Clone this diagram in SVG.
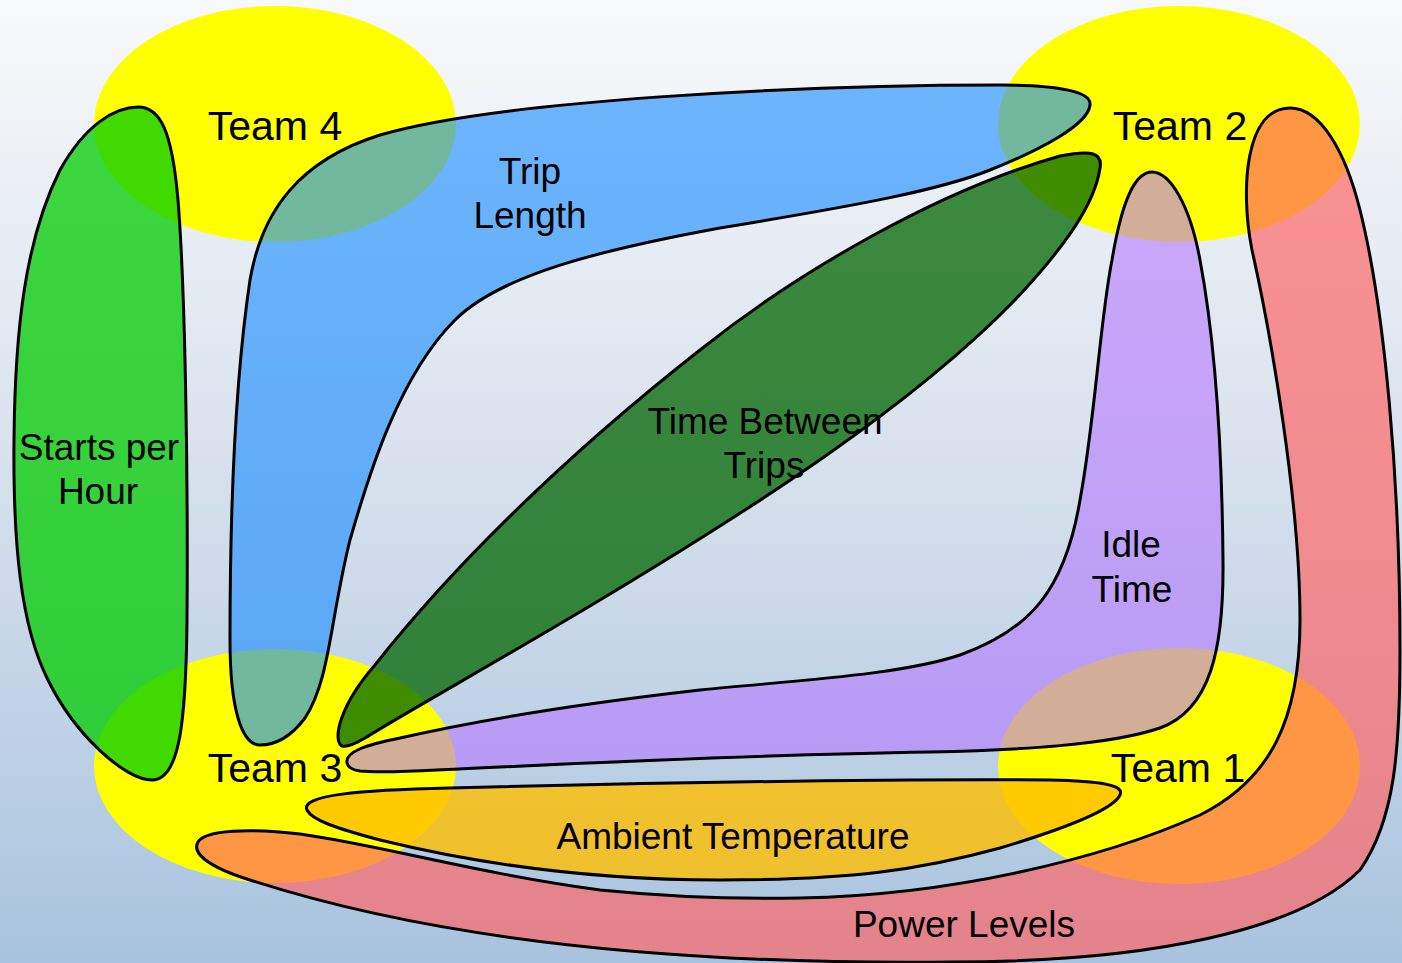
<svg xmlns="http://www.w3.org/2000/svg" width="1402" height="963" viewBox="0 0 1402 963">
<defs>
<linearGradient id="bg" x1="0" y1="0" x2="0" y2="1">
<stop offset="0" stop-color="#f8f9fb"/>
<stop offset="0.5" stop-color="#d6e0ec"/>
<stop offset="1" stop-color="#a8c3df"/>
</linearGradient>
</defs>
<style>
.team{fill:#ffff00;stroke:none}
.set{stroke:#000;stroke-width:3;stroke-linejoin:round}
.lbl{font-family:"Liberation Sans",Arial,sans-serif;fill:#000;text-anchor:middle}
.tl{font-size:41px}
.sl{font-size:37px}
</style>
<rect x="0" y="0" width="1402" height="963" fill="url(#bg)"/>
<g id="team4-bg"><ellipse class="team" cx="275" cy="124" rx="181" ry="118"/></g>
<g id="team2-bg"><ellipse class="team" cx="1179" cy="124" rx="181" ry="118"/></g>
<g id="team3-bg"><ellipse class="team" cx="275" cy="766" rx="181" ry="117"/></g>
<g id="team1-bg"><ellipse class="team" cx="1179" cy="766" rx="181" ry="118"/></g>
<g id="connectors">
<g id="starts-per-hour"><path class="set" fill="#00cc00" fill-opacity="0.75" d="M 138,107 C 160,107 172,130 178,200 C 186,300 188,500 187,620 C 186,720 180,780 152,780 C 125,780 75,735 48,680 C 20,625 13,540 14,440 C 15,330 25,240 60,170 C 85,125 115,107 138,107 Z"/></g>
<g id="trip-length"><path class="set" fill="#1a8cff" fill-opacity="0.62" d="M 260,745 C 242,745 230,710 230,640 C 230,520 235,380 250,280 C 262,210 300,160 380,135 C 500,100 800,85 1000,85 C 1060,85 1092,92 1090,105 C 1088,125 1040,150 990,170 C 940,190 860,205 720,228 C 600,250 500,275 455,320 C 400,375 370,470 350,540 C 330,620 330,680 305,718 C 290,738 275,745 260,745 Z"/></g>
<g id="time-between-trips"><path class="set" fill="#006600" fill-opacity="0.75" d="M 342,746 C 332,740 340,705 375,665 C 450,570 560,460 700,350 C 800,270 940,190 1060,156 C 1090,150 1103,152 1100,168 C 1095,205 1062,250 1015,300 C 910,408 750,510 600,600 C 500,660 410,710 365,738 C 355,744 347,747 342,746 Z"/></g>
<g id="idle-time"><path class="set" fill="#b478ff" fill-opacity="0.6" d="M 347,763 C 345,752 365,745 400,738 C 470,722 560,706 700,690 C 800,680 900,675 960,655 C 1030,630 1065,590 1080,500 C 1095,420 1100,320 1112,260 C 1122,200 1135,172 1152,172 C 1170,172 1190,205 1200,260 C 1215,340 1222,450 1223,560 C 1224,650 1210,710 1160,728 C 1110,745 1020,750 930,752 C 800,754 650,760 500,767 C 420,771 380,773 360,771 C 352,770 348,767 347,763 Z"/></g>
<g id="ambient-temperature"><path class="set" fill="#ffbe00" fill-opacity="0.8" d="M 307,810 C 300,795 360,790 450,788 C 650,783 900,779 1050,780 C 1100,781 1125,785 1120,795 C 1113,810 1060,830 1000,848 C 920,870 850,880 720,880 C 580,880 470,862 380,840 C 335,828 312,820 307,810 Z"/></g>
<g id="power-levels"><path class="set" fill="#ff6464" fill-opacity="0.68" d="M 1290,108 C 1320,108 1345,150 1360,210 C 1385,310 1400,480 1400,650 C 1400,750 1395,820 1360,870 C 1300,930 1150,962 950,962 C 650,965 420,935 250,880 C 205,866 192,852 198,842 C 205,830 250,828 300,834 C 380,845 470,872 600,890 C 680,898 750,899 800,898 C 950,895 1100,860 1200,815 C 1270,780 1300,720 1300,620 C 1300,500 1270,330 1252,250 C 1240,190 1245,108 1290,108 Z"/></g>
</g>
<g id="team4"><text class="lbl tl" x="275" y="140">Team 4</text></g>
<g id="team2"><text class="lbl tl" x="1180" y="140">Team 2</text></g>
<g id="team3"><text class="lbl tl" x="275" y="782">Team 3</text></g>
<g id="team1"><text class="lbl tl" x="1178" y="782">Team 1</text></g>
<g id="labels">
<text class="lbl sl" x="530" y="184">Trip</text>
<text class="lbl sl" x="530" y="228">Length</text>
<text class="lbl sl" x="765" y="434">Time Between</text>
<text class="lbl sl" x="764" y="478">Trips</text>
<text class="lbl sl" x="99" y="460">Starts per</text>
<text class="lbl sl" x="98" y="504">Hour</text>
<text class="lbl sl" x="1131" y="557">Idle</text>
<text class="lbl sl" x="1132" y="602">Time</text>
<text class="lbl sl" x="733" y="849">Ambient Temperature</text>
<text class="lbl sl" x="964" y="937">Power Levels</text>
</g>
</svg>
